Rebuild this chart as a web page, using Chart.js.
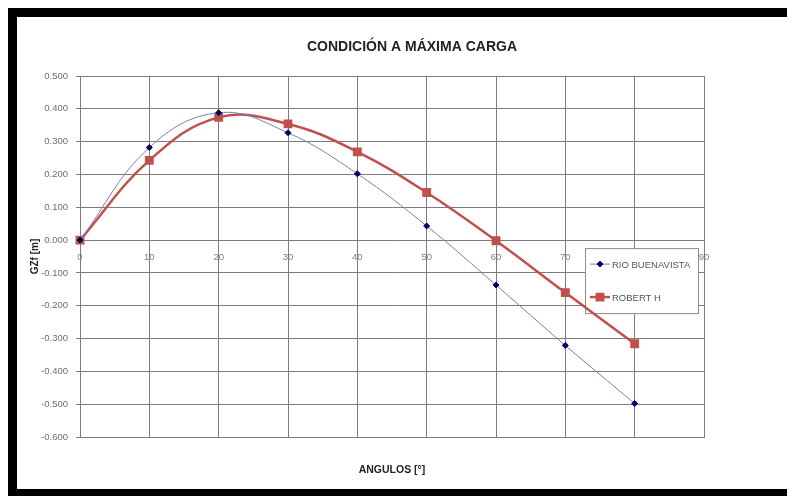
<!DOCTYPE html>
<html>
<head>
<meta charset="utf-8">
<script src="https://cdn.jsdelivr.net/npm/chart.js@4.4.1/dist/chart.umd.min.js"></script>
<style>
  html, body { margin: 0; padding: 0; background: #fff; }
  #frame {
    position: absolute; left: 8px; top: 8px; width: 779px; height: 488px; box-sizing: border-box;
    border-top: 9px solid #000; border-left: 9px solid #000; border-bottom: 7px solid #000; background: #fff;
  }
  #wrap { position: absolute; left: 0; top: 0; width: 787px; height: 496px; }
</style>
</head>
<body>
<div id="frame"></div>
<div id="wrap"><canvas id="chart"></canvas></div>
<script>
const TITLE = 'CONDICIÓN A MÁXIMA CARGA';
const X_TITLE = 'ANGULOS [°]';
const Y_TITLE = 'GZf [m]';

const angles = [0, 10, 20, 30, 40, 50, 60, 70, 80];
const rioBuenavista = [0.000, 0.282, 0.388, 0.327, 0.202, 0.043, -0.137, -0.321, -0.498];
const robertH = [0.000, 0.243, 0.374, 0.354, 0.269, 0.145, -0.002, -0.160, -0.316];

const xRange = [0, 90];
const xStep = 10;
const yRange = [-0.6, 0.5];
const yStep = 0.1;

const FONT = "'Liberation Sans', Arial, sans-serif";
const GRID = '#7c7c7c';

function pts(vals) {
  return angles.map((a, i) => ({ x: a, y: vals[i] }));
}

// title drawn over the whole frame, a bit right of the plot centre like the original
const mainTitle = {
  id: 'mainTitle',
  afterDraw(chart) {
    const { ctx, chartArea } = chart;
    ctx.save();
    ctx.font = 'bold 14px ' + FONT;
    ctx.fillStyle = '#222';
    ctx.textAlign = 'center';
    ctx.textBaseline = 'middle';
    ctx.fillText(TITLE, (chartArea.left + chartArea.right) / 2 + 20, chartArea.top - 29);
    ctx.restore();
  }
};

// legend box sitting inside the plot, just under the zero line
const legendBox = {
  id: 'legendBox',
  beforeDatasetsDraw(chart) {
    const { ctx, chartArea } = chart;
    const y0 = chart.scales.y.getPixelForValue(0);
    const left = chartArea.right - 119, top = y0 + 8, w = 113, h = 65;
    ctx.save();
    ctx.fillStyle = '#fff';
    ctx.fillRect(left, top, w, h);
    ctx.strokeStyle = '#8c8c8c';
    ctx.lineWidth = 1;
    ctx.strokeRect(left + 0.5, top + 0.5, w, h);
    chart.data.datasets.forEach((ds, i) => {
      const cy = top + 16 + i * 33;
      ctx.strokeStyle = ds.borderColor;
      ctx.lineWidth = ds.borderWidth;
      ctx.beginPath();
      ctx.moveTo(left + 5, cy);
      ctx.lineTo(left + 25, cy);
      ctx.stroke();
      ctx.fillStyle = ds.pointBackgroundColor;
      ctx.strokeStyle = ds.pointBorderColor;
      Chart.helpers.drawPoint(ctx, { pointStyle: ds.pointStyle, radius: ds.pointRadius, rotation: 0, borderWidth: 1 }, left + 15, cy);
      ctx.fillStyle = '#555';
      ctx.font = '9.5px ' + FONT;
      ctx.textAlign = 'left';
      ctx.textBaseline = 'middle';
      ctx.fillText(ds.label, left + 27, cy + 1);
    });
    ctx.restore();
  }
};

new Chart(document.getElementById('chart'), {
  type: 'line',
  data: {
    datasets: [
      {
        label: 'RIO BUENAVISTA',
        data: pts(rioBuenavista),
        borderColor: '#7481b4',
        borderWidth: 1,
        pointStyle: 'rectRot',
        pointRadius: 3,
        pointBackgroundColor: '#000066',
        pointBorderColor: '#000066',
        tension: 0.4,
        clip: false
      },
      {
        label: 'ROBERT H',
        data: pts(robertH),
        borderColor: '#c0504d',
        borderWidth: 2.5,
        pointStyle: 'rect',
        pointRadius: 4.5,
        pointBackgroundColor: '#c0504d',
        pointBorderColor: '#c0504d',
        tension: 0.4,
        clip: false
      }
    ]
  },
  options: {
    responsive: true,
    maintainAspectRatio: false,
    animation: false,
    layout: { padding: { left: 28, top: 76, right: 83, bottom: 0 } },
    plugins: { legend: { display: false }, title: { display: false }, tooltip: { enabled: false } },
    scales: {
      x: {
        type: 'linear',
        position: 'bottom',
        min: xRange[0], max: xRange[1],
        ticks: { display: false, stepSize: xStep },
        grid: { color: GRID, drawTicks: false },
        border: { color: GRID },
        title: { display: true, text: X_TITLE, color: '#222', font: { family: FONT, size: 10.5, weight: 'bold' }, padding: { top: 0, bottom: 20 } },
        afterFit: s => { s.height = 59; }
      },
      xz: {
        type: 'linear',
        position: { y: 0 },
        min: xRange[0], max: xRange[1],
        ticks: { stepSize: xStep, color: '#808080', padding: 12, maxRotation: 0, font: { family: FONT, size: 9.5 } },
        grid: { display: false, drawTicks: false },
        border: { display: false }
      },
      y: {
        min: yRange[0], max: yRange[1],
        ticks: { stepSize: yStep, color: '#6e6e6e', padding: 8, font: { family: FONT, size: 9.5 }, callback: v => v.toFixed(3) },
        grid: { color: GRID, tickLength: 4 },
        border: { color: GRID },
        title: { display: true, text: Y_TITLE, color: '#222', font: { family: FONT, size: 10, weight: 'bold' }, padding: { top: 1, bottom: 0 } },
        afterFit: s => { s.width = 52; }
      }
    }
  },
  plugins: [legendBox, mainTitle]
});
</script>
</body>
</html>
